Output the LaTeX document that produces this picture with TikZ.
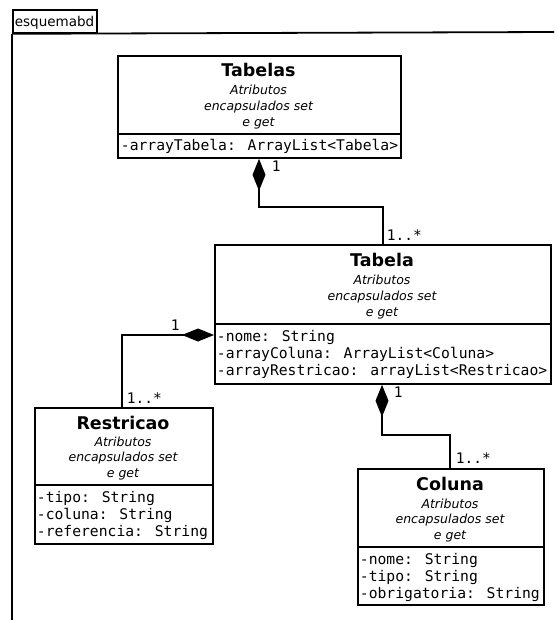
\documentclass[tikz,border=0pt]{standalone}
\usepackage{fontspec}
\setmainfont{DejaVu Sans}
\newfontfamily\monofont{DejaVu Sans Mono}
\usetikzlibrary{arrows.meta}
\begin{document}
\begin{tikzpicture}[x=1pt,y=-1pt,line width=1.8pt,
  cls/.style={draw,rectangle,inner sep=0pt,anchor=north west},
  title/.style={inner sep=0pt,anchor=base,font=\fontsize{17.5}{20}\selectfont\bfseries},
  note/.style={inner sep=0pt,anchor=base,font=\fontsize{12.5}{15}\selectfont\itshape},
  attr/.style={inner sep=0pt,anchor=base west,font=\fontsize{14.7}{17}\monofont},
  mult/.style={inner sep=0pt,anchor=base west,font=\fontsize{14.5}{17}\monofont},
  comp/.style={{Diamond[length=32pt,width=13pt]}-,line join=miter}]
\useasboundingbox (0,0) rectangle (554,620);

% package frame
\node[cls,minimum width=84pt,minimum height=23pt] (frame) at (12,9) {};
\node[inner sep=0pt,anchor=base west,font=\fontsize{13.5}{16}\selectfont] (framelbl) at (14,26.5) {esquemabd};
\coordinate (fr) at (554,32);
\coordinate (fb) at (12,620);
\draw (frame.south west) -- (fr);
\draw (frame.south west) -- (fb);

% class Tabelas
\node[cls,minimum width=283pt,minimum height=102pt] (tabelas) at (117,55) {};
\draw (117,134) -- (400,134);
\node[title] (t1) at (258.5,77) {Tabelas};
\node[note] (t2) at (258.5,95) {Atributos};
\node[note] (t3) at (258.5,111) {encapsulados set};
\node[note] (t4) at (258.5,127) {e get};
\node[attr] (t5) at (120,151) {-arrayTabela: ArrayList<Tabela>};

% class Tabela
\node[cls,minimum width=336pt,minimum height=139pt] (tabela) at (214,244) {};
\draw (214,324) -- (550,324);
\node[title] (b1) at (382,266) {Tabela};
\node[note] (b2) at (382,284) {Atributos};
\node[note] (b3) at (382,300) {encapsulados set};
\node[note] (b4) at (382,316) {e get};
\node[attr] (b5) at (216,341) {-nome: String};
\node[attr] (b6) at (216,358) {-arrayColuna: ArrayList<Coluna>};
\node[attr] (b7) at (216,375) {-arrayRestricao: arrayList<Restricao>};

% class Restricao
\node[cls,minimum width=178pt,minimum height=136pt] (restricao) at (34,407) {};
\draw (34,485) -- (212,485);
\node[title] (r1) at (123,429) {Restricao};
\node[note] (r2) at (123,446) {Atributos};
\node[note] (r3) at (123,461) {encapsulados set};
\node[note] (r4) at (123,477) {e get};
\node[attr] (r5) at (36,502) {-tipo: String};
\node[attr] (r6) at (36,519) {-coluna: String};
\node[attr] (r7) at (36,536) {-referencia: String};

% class Coluna
\node[cls,minimum width=186pt,minimum height=136pt] (coluna) at (357,468) {};
\draw (357,547) -- (543,547);
\node[title] (c1) at (450,490) {Coluna};
\node[note] (c2) at (450,508) {Atributos};
\node[note] (c3) at (450,523) {encapsulados set};
\node[note] (c4) at (450,539) {e get};
\node[attr] (c5) at (359,564) {-nome: String};
\node[attr] (c6) at (359,581) {-tipo: String};
\node[attr] (c7) at (359,598) {-obrigatoria: String};

% compositions
\coordinate (j1) at (259,207);
\coordinate (j2) at (383,207);
\draw[comp] (tabelas.south -| j1) -- (j1) -- (j2) -- (tabela.north -| j2);

\coordinate (k1) at (214,335);
\coordinate (k2) at (122,335);
\draw[comp] (k1) -- (k2) -- (restricao.north -| k2);

\coordinate (l1) at (382,435);
\coordinate (l2) at (450,435);
\draw[comp] (tabela.south -| l1) -- (l1) -- (l2) -- (coluna.north -| l2);

% multiplicities
\node[mult] (m1) at (271,172) {1};
\node[mult] (m2) at (386,240) {1..*};
\node[mult] (m3) at (170,330) {1};
\node[mult] (m4) at (126,403) {1..*};
\node[mult] (m5) at (393,397) {1};
\node[mult] (m6) at (455,463) {1..*};
\end{tikzpicture}
\end{document}
